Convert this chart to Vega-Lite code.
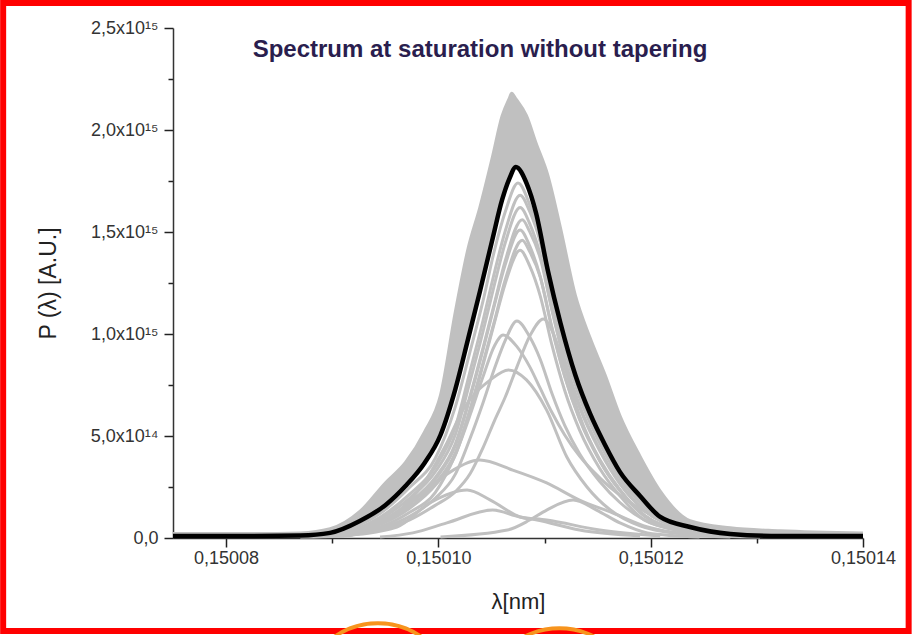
{
  "$schema": "https://vega.github.io/schema/vega-lite/v6.json",
  "autosize": {"type": "none"},
  "width": 690,
  "height": 510,
  "padding": {"left": 173, "top": 28, "right": 51, "bottom": 97},
  "background": "white",
  "config": {"view": {"stroke": null}, "font": "Liberation Sans"},
  "title": {"text": "Spectrum at saturation without tapering", "font": "Liberation Sans", "fontSize": 24, "fontWeight": "bold", "color": "#2a1e4e", "anchor": "middle", "dx": -38, "dy": 62, "offset": 0},
  "datasets": {
    "band": [
      {"x": 0.150075, "lo": 0.0098, "hi": 0.022},
      {"x": 0.1500823, "lo": 0.0098, "hi": 0.022},
      {"x": 0.150087, "lo": 0.012, "hi": 0.025},
      {"x": 0.1500898, "lo": 0.025, "hi": 0.045},
      {"x": 0.1500926, "lo": 0.083, "hi": 0.13},
      {"x": 0.150095, "lo": 0.161, "hi": 0.27},
      {"x": 0.1500969, "lo": 0.255, "hi": 0.37},
      {"x": 0.1500987, "lo": 0.368, "hi": 0.52},
      {"x": 0.1501002, "lo": 0.505, "hi": 0.70},
      {"x": 0.1501016, "lo": 0.730, "hi": 1.11},
      {"x": 0.1501028, "lo": 0.976, "hi": 1.42},
      {"x": 0.1501039, "lo": 1.206, "hi": 1.62},
      {"x": 0.1501051, "lo": 1.466, "hi": 1.87},
      {"x": 0.150106, "lo": 1.657, "hi": 2.069},
      {"x": 0.1501067, "lo": 1.763, "hi": 2.158},
      {"x": 0.1501069, "lo": 1.782, "hi": 2.18},
      {"x": 0.1501073, "lo": 1.819, "hi": 2.152},
      {"x": 0.1501083, "lo": 1.740, "hi": 2.07},
      {"x": 0.1501092, "lo": 1.593, "hi": 1.936},
      {"x": 0.1501103, "lo": 1.314, "hi": 1.78},
      {"x": 0.1501115, "lo": 1.054, "hi": 1.52},
      {"x": 0.1501129, "lo": 0.799, "hi": 1.19},
      {"x": 0.1501143, "lo": 0.608, "hi": 0.98},
      {"x": 0.1501157, "lo": 0.456, "hi": 0.80},
      {"x": 0.1501171, "lo": 0.324, "hi": 0.60},
      {"x": 0.150119, "lo": 0.206, "hi": 0.40},
      {"x": 0.1501209, "lo": 0.103, "hi": 0.23},
      {"x": 0.1501237, "lo": 0.054, "hi": 0.085},
      {"x": 0.1501275, "lo": 0.020, "hi": 0.05},
      {"x": 0.1501322, "lo": 0.010, "hi": 0.035},
      {"x": 0.15014, "lo": 0.010, "hi": 0.025}
    ],
    "mean": [
      {"x": 0.150075, "y": 0.0098},
      {"x": 0.1500823, "y": 0.0098},
      {"x": 0.150087, "y": 0.012},
      {"x": 0.1500898, "y": 0.025},
      {"x": 0.1500926, "y": 0.083},
      {"x": 0.150095, "y": 0.161},
      {"x": 0.1500969, "y": 0.255},
      {"x": 0.1500987, "y": 0.368},
      {"x": 0.1501002, "y": 0.505},
      {"x": 0.1501016, "y": 0.730},
      {"x": 0.1501028, "y": 0.976},
      {"x": 0.1501039, "y": 1.206},
      {"x": 0.1501051, "y": 1.466},
      {"x": 0.150106, "y": 1.657},
      {"x": 0.1501067, "y": 1.763},
      {"x": 0.1501073, "y": 1.819},
      {"x": 0.1501083, "y": 1.740},
      {"x": 0.1501092, "y": 1.593},
      {"x": 0.1501103, "y": 1.314},
      {"x": 0.1501115, "y": 1.054},
      {"x": 0.1501129, "y": 0.799},
      {"x": 0.1501143, "y": 0.608},
      {"x": 0.1501157, "y": 0.456},
      {"x": 0.1501171, "y": 0.324},
      {"x": 0.150119, "y": 0.206},
      {"x": 0.1501209, "y": 0.103},
      {"x": 0.1501237, "y": 0.054},
      {"x": 0.1501275, "y": 0.020},
      {"x": 0.1501322, "y": 0.010},
      {"x": 0.15014, "y": 0.010}
    ],
    "curves": [
      {"s": "L1", "x": 0.150075, "y": 0.009}, {"s": "L1", "x": 0.150087, "y": 0.012}, {"s": "L1", "x": 0.1500907, "y": 0.033}, {"s": "L1", "x": 0.1500945, "y": 0.120}, {"s": "L1", "x": 0.1500973, "y": 0.249}, {"s": "L1", "x": 0.1500997, "y": 0.390}, {"s": "L1", "x": 0.1501016, "y": 0.644}, {"s": "L1", "x": 0.150103, "y": 0.917}, {"s": "L1", "x": 0.1501042, "y": 1.161}, {"s": "L1", "x": 0.1501053, "y": 1.414}, {"s": "L1", "x": 0.1501063, "y": 1.599}, {"s": "L1", "x": 0.1501075, "y": 1.74}, {"s": "L1", "x": 0.1501086, "y": 1.634}, {"s": "L1", "x": 0.1501096, "y": 1.470}, {"s": "L1", "x": 0.1501107, "y": 1.200}, {"s": "L1", "x": 0.1501119, "y": 0.944}, {"s": "L1", "x": 0.1501133, "y": 0.711}, {"s": "L1", "x": 0.1501152, "y": 0.487}, {"s": "L1", "x": 0.1501171, "y": 0.310}, {"s": "L1", "x": 0.1501194, "y": 0.169}, {"s": "L1", "x": 0.1501228, "y": 0.066}, {"s": "L1", "x": 0.1501275, "y": 0.019}, {"s": "L1", "x": 0.15014, "y": 0.009},
      {"s": "L2", "x": 0.150075, "y": 0.008}, {"s": "L2", "x": 0.150087, "y": 0.011}, {"s": "L2", "x": 0.1500907, "y": 0.025}, {"s": "L2", "x": 0.1500945, "y": 0.102}, {"s": "L2", "x": 0.1500973, "y": 0.215}, {"s": "L2", "x": 0.1500997, "y": 0.347}, {"s": "L2", "x": 0.1501016, "y": 0.545}, {"s": "L2", "x": 0.150103, "y": 0.821}, {"s": "L2", "x": 0.1501042, "y": 1.065}, {"s": "L2", "x": 0.1501053, "y": 1.306}, {"s": "L2", "x": 0.1501063, "y": 1.505}, {"s": "L2", "x": 0.1501077, "y": 1.68}, {"s": "L2", "x": 0.1501086, "y": 1.601}, {"s": "L2", "x": 0.1501096, "y": 1.450}, {"s": "L2", "x": 0.1501107, "y": 1.179}, {"s": "L2", "x": 0.1501119, "y": 0.921}, {"s": "L2", "x": 0.1501133, "y": 0.689}, {"s": "L2", "x": 0.1501152, "y": 0.465}, {"s": "L2", "x": 0.1501171, "y": 0.292}, {"s": "L2", "x": 0.1501194, "y": 0.154}, {"s": "L2", "x": 0.1501228, "y": 0.059}, {"s": "L2", "x": 0.1501275, "y": 0.017}, {"s": "L2", "x": 0.15014, "y": 0.008},
      {"s": "L3", "x": 0.150075, "y": 0.008}, {"s": "L3", "x": 0.150087, "y": 0.011}, {"s": "L3", "x": 0.1500907, "y": 0.020}, {"s": "L3", "x": 0.1500945, "y": 0.092}, {"s": "L3", "x": 0.1500973, "y": 0.196}, {"s": "L3", "x": 0.1500997, "y": 0.324}, {"s": "L3", "x": 0.1501016, "y": 0.507}, {"s": "L3", "x": 0.150103, "y": 0.771}, {"s": "L3", "x": 0.1501042, "y": 1.011}, {"s": "L3", "x": 0.1501053, "y": 1.247}, {"s": "L3", "x": 0.1501063, "y": 1.447}, {"s": "L3", "x": 0.1501077, "y": 1.62}, {"s": "L3", "x": 0.1501086, "y": 1.541}, {"s": "L3", "x": 0.1501096, "y": 1.388}, {"s": "L3", "x": 0.1501107, "y": 1.124}, {"s": "L3", "x": 0.1501119, "y": 0.873}, {"s": "L3", "x": 0.1501133, "y": 0.649}, {"s": "L3", "x": 0.1501152, "y": 0.434}, {"s": "L3", "x": 0.1501171, "y": 0.270}, {"s": "L3", "x": 0.1501194, "y": 0.136}, {"s": "L3", "x": 0.1501228, "y": 0.052}, {"s": "L3", "x": 0.1501275, "y": 0.015}, {"s": "L3", "x": 0.15014, "y": 0.008},
      {"s": "L4", "x": 0.150075, "y": 0.008}, {"s": "L4", "x": 0.150087, "y": 0.009}, {"s": "L4", "x": 0.1500907, "y": 0.017}, {"s": "L4", "x": 0.1500945, "y": 0.081}, {"s": "L4", "x": 0.1500973, "y": 0.175}, {"s": "L4", "x": 0.1500997, "y": 0.296}, {"s": "L4", "x": 0.1501016, "y": 0.462}, {"s": "L4", "x": 0.150103, "y": 0.699}, {"s": "L4", "x": 0.1501042, "y": 0.931}, {"s": "L4", "x": 0.1501053, "y": 1.154}, {"s": "L4", "x": 0.1501063, "y": 1.359}, {"s": "L4", "x": 0.1501079, "y": 1.56}, {"s": "L4", "x": 0.1501086, "y": 1.502}, {"s": "L4", "x": 0.1501096, "y": 1.371}, {"s": "L4", "x": 0.1501107, "y": 1.115}, {"s": "L4", "x": 0.1501119, "y": 0.866}, {"s": "L4", "x": 0.1501133, "y": 0.641}, {"s": "L4", "x": 0.1501152, "y": 0.427}, {"s": "L4", "x": 0.1501171, "y": 0.265}, {"s": "L4", "x": 0.1501194, "y": 0.134}, {"s": "L4", "x": 0.1501228, "y": 0.050}, {"s": "L4", "x": 0.1501275, "y": 0.014}, {"s": "L4", "x": 0.15014, "y": 0.008},
      {"s": "L5", "x": 0.150075, "y": 0.008}, {"s": "L5", "x": 0.150087, "y": 0.009}, {"s": "L5", "x": 0.1500907, "y": 0.015}, {"s": "L5", "x": 0.1500945, "y": 0.076}, {"s": "L5", "x": 0.1500973, "y": 0.168}, {"s": "L5", "x": 0.1500997, "y": 0.288}, {"s": "L5", "x": 0.1501016, "y": 0.452}, {"s": "L5", "x": 0.150103, "y": 0.690}, {"s": "L5", "x": 0.1501042, "y": 0.921}, {"s": "L5", "x": 0.1501053, "y": 1.146}, {"s": "L5", "x": 0.1501063, "y": 1.340}, {"s": "L5", "x": 0.1501077, "y": 1.51}, {"s": "L5", "x": 0.1501086, "y": 1.432}, {"s": "L5", "x": 0.1501096, "y": 1.280}, {"s": "L5", "x": 0.1501107, "y": 1.025}, {"s": "L5", "x": 0.1501119, "y": 0.791}, {"s": "L5", "x": 0.1501133, "y": 0.581}, {"s": "L5", "x": 0.1501152, "y": 0.379}, {"s": "L5", "x": 0.1501171, "y": 0.234}, {"s": "L5", "x": 0.1501194, "y": 0.107}, {"s": "L5", "x": 0.1501228, "y": 0.042}, {"s": "L5", "x": 0.1501275, "y": 0.013}, {"s": "L5", "x": 0.15014, "y": 0.008},
      {"s": "L6", "x": 0.150075, "y": 0.007}, {"s": "L6", "x": 0.150087, "y": 0.009}, {"s": "L6", "x": 0.1500907, "y": 0.014}, {"s": "L6", "x": 0.1500945, "y": 0.069}, {"s": "L6", "x": 0.1500973, "y": 0.153}, {"s": "L6", "x": 0.1500997, "y": 0.267}, {"s": "L6", "x": 0.1501016, "y": 0.418}, {"s": "L6", "x": 0.150103, "y": 0.634}, {"s": "L6", "x": 0.1501042, "y": 0.857}, {"s": "L6", "x": 0.1501053, "y": 1.067}, {"s": "L6", "x": 0.1501063, "y": 1.266}, {"s": "L6", "x": 0.1501079, "y": 1.46}, {"s": "L6", "x": 0.1501086, "y": 1.404}, {"s": "L6", "x": 0.1501096, "y": 1.279}, {"s": "L6", "x": 0.1501107, "y": 1.032}, {"s": "L6", "x": 0.1501119, "y": 0.794}, {"s": "L6", "x": 0.1501133, "y": 0.585}, {"s": "L6", "x": 0.1501152, "y": 0.385}, {"s": "L6", "x": 0.1501171, "y": 0.237}, {"s": "L6", "x": 0.1501194, "y": 0.112}, {"s": "L6", "x": 0.1501228, "y": 0.042}, {"s": "L6", "x": 0.1501275, "y": 0.013}, {"s": "L6", "x": 0.15014, "y": 0.007},
      {"s": "L7", "x": 0.150075, "y": 0.007}, {"s": "L7", "x": 0.150087, "y": 0.008}, {"s": "L7", "x": 0.1500907, "y": 0.013}, {"s": "L7", "x": 0.1500945, "y": 0.065}, {"s": "L7", "x": 0.1500973, "y": 0.146}, {"s": "L7", "x": 0.1500997, "y": 0.258}, {"s": "L7", "x": 0.1501016, "y": 0.407}, {"s": "L7", "x": 0.150103, "y": 0.627}, {"s": "L7", "x": 0.1501042, "y": 0.847}, {"s": "L7", "x": 0.1501053, "y": 1.059}, {"s": "L7", "x": 0.1501063, "y": 1.248}, {"s": "L7", "x": 0.1501077, "y": 1.41}, {"s": "L7", "x": 0.1501086, "y": 1.334}, {"s": "L7", "x": 0.1501096, "y": 1.186}, {"s": "L7", "x": 0.1501107, "y": 0.945}, {"s": "L7", "x": 0.1501119, "y": 0.723}, {"s": "L7", "x": 0.1501133, "y": 0.529}, {"s": "L7", "x": 0.1501152, "y": 0.341}, {"s": "L7", "x": 0.1501171, "y": 0.207}, {"s": "L7", "x": 0.1501194, "y": 0.089}, {"s": "L7", "x": 0.1501228, "y": 0.037}, {"s": "L7", "x": 0.1501275, "y": 0.011}, {"s": "L7", "x": 0.15014, "y": 0.007},
      {"s": "D1", "x": 0.150087, "y": 0.006}, {"s": "D1", "x": 0.1500907, "y": 0.009}, {"s": "D1", "x": 0.1500945, "y": 0.046}, {"s": "D1", "x": 0.1500973, "y": 0.106}, {"s": "D1", "x": 0.1500997, "y": 0.195}, {"s": "D1", "x": 0.1501016, "y": 0.313}, {"s": "D1", "x": 0.150103, "y": 0.490}, {"s": "D1", "x": 0.1501042, "y": 0.662}, {"s": "D1", "x": 0.1501053, "y": 0.833}, {"s": "D1", "x": 0.1501063, "y": 0.969}, {"s": "D1", "x": 0.1501074, "y": 1.064}, {"s": "D1", "x": 0.1501086, "y": 0.986}, {"s": "D1", "x": 0.1501096, "y": 0.875}, {"s": "D1", "x": 0.1501107, "y": 0.708}, {"s": "D1", "x": 0.1501119, "y": 0.552}, {"s": "D1", "x": 0.1501133, "y": 0.413}, {"s": "D1", "x": 0.1501152, "y": 0.277}, {"s": "D1", "x": 0.1501171, "y": 0.174}, {"s": "D1", "x": 0.1501194, "y": 0.088}, {"s": "D1", "x": 0.1501228, "y": 0.034}, {"s": "D1", "x": 0.1501275, "y": 0.011},
      {"s": "D2", "x": 0.150087, "y": 0.006}, {"s": "D2", "x": 0.1500907, "y": 0.010}, {"s": "D2", "x": 0.1500945, "y": 0.043}, {"s": "D2", "x": 0.1500973, "y": 0.089}, {"s": "D2", "x": 0.1500997, "y": 0.160}, {"s": "D2", "x": 0.1501016, "y": 0.227}, {"s": "D2", "x": 0.150103, "y": 0.316}, {"s": "D2", "x": 0.1501042, "y": 0.442}, {"s": "D2", "x": 0.1501053, "y": 0.577}, {"s": "D2", "x": 0.1501063, "y": 0.691}, {"s": "D2", "x": 0.1501074, "y": 0.839}, {"s": "D2", "x": 0.1501086, "y": 0.989}, {"s": "D2", "x": 0.1501099, "y": 1.074}, {"s": "D2", "x": 0.1501107, "y": 1.017}, {"s": "D2", "x": 0.1501119, "y": 0.838}, {"s": "D2", "x": 0.1501133, "y": 0.600}, {"s": "D2", "x": 0.1501152, "y": 0.379}, {"s": "D2", "x": 0.1501171, "y": 0.232}, {"s": "D2", "x": 0.1501194, "y": 0.111}, {"s": "D2", "x": 0.1501228, "y": 0.035}, {"s": "D2", "x": 0.1501275, "y": 0.009},
      {"s": "D3", "x": 0.150087, "y": 0.006}, {"s": "D3", "x": 0.1500907, "y": 0.009}, {"s": "D3", "x": 0.1500945, "y": 0.053}, {"s": "D3", "x": 0.1500973, "y": 0.126}, {"s": "D3", "x": 0.1500997, "y": 0.223}, {"s": "D3", "x": 0.1501016, "y": 0.409}, {"s": "D3", "x": 0.150103, "y": 0.605}, {"s": "D3", "x": 0.1501042, "y": 0.790}, {"s": "D3", "x": 0.1501053, "y": 0.944}, {"s": "D3", "x": 0.1501061, "y": 0.995}, {"s": "D3", "x": 0.1501074, "y": 0.938}, {"s": "D3", "x": 0.1501086, "y": 0.840}, {"s": "D3", "x": 0.1501096, "y": 0.733}, {"s": "D3", "x": 0.1501107, "y": 0.615}, {"s": "D3", "x": 0.1501119, "y": 0.505}, {"s": "D3", "x": 0.1501133, "y": 0.401}, {"s": "D3", "x": 0.1501152, "y": 0.295}, {"s": "D3", "x": 0.1501171, "y": 0.209}, {"s": "D3", "x": 0.1501194, "y": 0.132}, {"s": "D3", "x": 0.1501228, "y": 0.054}, {"s": "D3", "x": 0.1501275, "y": 0.023},
      {"s": "D4", "x": 0.1500898, "y": 0.010}, {"s": "D4", "x": 0.1500926, "y": 0.029}, {"s": "D4", "x": 0.1500954, "y": 0.098}, {"s": "D4", "x": 0.1500983, "y": 0.245}, {"s": "D4", "x": 0.1501008, "y": 0.466}, {"s": "D4", "x": 0.1501023, "y": 0.627}, {"s": "D4", "x": 0.1501049, "y": 0.775}, {"s": "D4", "x": 0.1501066, "y": 0.824}, {"s": "D4", "x": 0.1501083, "y": 0.775}, {"s": "D4", "x": 0.1501102, "y": 0.627}, {"s": "D4", "x": 0.1501121, "y": 0.397}, {"s": "D4", "x": 0.150114, "y": 0.250}, {"s": "D4", "x": 0.1501162, "y": 0.137}, {"s": "D4", "x": 0.150119, "y": 0.059}, {"s": "D4", "x": 0.1501228, "y": 0.020}, {"s": "D4", "x": 0.1501275, "y": 0.005},
      {"s": "E", "x": 0.1500888, "y": 0.010}, {"s": "E", "x": 0.1500926, "y": 0.039}, {"s": "E", "x": 0.1500961, "y": 0.123}, {"s": "E", "x": 0.1500992, "y": 0.250}, {"s": "E", "x": 0.1501014, "y": 0.333}, {"s": "E", "x": 0.1501039, "y": 0.382}, {"s": "E", "x": 0.150107, "y": 0.333}, {"s": "E", "x": 0.1501102, "y": 0.270}, {"s": "E", "x": 0.1501133, "y": 0.186}, {"s": "E", "x": 0.1501164, "y": 0.123}, {"s": "E", "x": 0.1501197, "y": 0.054}, {"s": "E", "x": 0.1501246, "y": 0.015}, {"s": "E", "x": 0.1501303, "y": 0.005},
      {"s": "F", "x": 0.1500907, "y": 0.010}, {"s": "F", "x": 0.1500961, "y": 0.054}, {"s": "F", "x": 0.1500992, "y": 0.172}, {"s": "F", "x": 0.1501027, "y": 0.235}, {"s": "F", "x": 0.1501049, "y": 0.186}, {"s": "F", "x": 0.1501077, "y": 0.103}, {"s": "F", "x": 0.1501093, "y": 0.088}, {"s": "F", "x": 0.1501133, "y": 0.039}, {"s": "F", "x": 0.150119, "y": 0.010},
      {"s": "G", "x": 0.1500945, "y": 0.005}, {"s": "G", "x": 0.1500976, "y": 0.025}, {"s": "G", "x": 0.1501008, "y": 0.074}, {"s": "G", "x": 0.1501051, "y": 0.137}, {"s": "G", "x": 0.1501077, "y": 0.103}, {"s": "G", "x": 0.1501102, "y": 0.088}, {"s": "G", "x": 0.1501152, "y": 0.039}, {"s": "G", "x": 0.1501209, "y": 0.010},
      {"s": "H", "x": 0.1501002, "y": 0.005}, {"s": "H", "x": 0.1501065, "y": 0.039}, {"s": "H", "x": 0.1501086, "y": 0.088}, {"s": "H", "x": 0.1501102, "y": 0.137}, {"s": "H", "x": 0.1501127, "y": 0.186}, {"s": "H", "x": 0.1501149, "y": 0.137}, {"s": "H", "x": 0.1501171, "y": 0.074}, {"s": "H", "x": 0.1501197, "y": 0.025}, {"s": "H", "x": 0.1501246, "y": 0.005}
    ],
    "frame": [{"x": 0.150059, "x2": 0.1501443, "y": 2.6226, "y2": -0.4559}],
    "marks": [{"x": 0.1500943, "y": -0.789}, {"x": 0.1501114, "y": -0.814}]
  },
  "layer": [
    {
      "data": {"name": "band"},
      "mark": {"type": "area", "interpolate": "monotone", "color": "#c0c0c0", "opacity": 1, "line": {"color": "#c0c0c0", "strokeWidth": 3}},
      "encoding": {
        "x": {"field": "x", "type": "quantitative", "scale": {"domain": [0.150075, 0.15014], "nice": false, "zero": false},
          "axis": {"title": "λ[nm]", "values": [0.15008, 0.15009, 0.1501, 0.15011, 0.15012, 0.15013, 0.15014], "labelExpr": "round(datum.value*1e5)%2==0 ? replace(format(datum.value,'.5f'),'.',',') : ''", "grid": false, "domainColor": "#333", "domainWidth": 1.5, "tickColor": "#222", "tickWidth": 1.5, "tickSize": {"condition": {"test": "round(datum.value*1e5)%2==0", "value": 9}, "value": 5}, "labelFont": "Liberation Sans", "labelFontSize": 18, "labelColor": "#333", "labelPadding": 2, "labelFlush": false, "labelOverlap": false, "titleFont": "Liberation Sans", "titleFontSize": 22, "titleFontWeight": "normal", "titleColor": "#222", "titlePadding": 24}},
        "y": {"field": "hi", "type": "quantitative", "scale": {"domain": [0, 2.5], "nice": false, "zero": false},
          "axis": {"title": "P (λ) [A.U.]", "values": [0, 0.25, 0.5, 0.75, 1, 1.25, 1.5, 1.75, 2, 2.25, 2.5], "labelExpr": "round(datum.value*4)%2!=0 ? '' : datum.value==0 ? '0,0' : datum.value<1 ? replace(format(datum.value*10,'.1f'),'.',',')+'x10¹⁴' : replace(format(datum.value,'.1f'),'.',',')+'x10¹⁵'", "grid": false, "domainColor": "#333", "domainWidth": 1.5, "tickColor": "#222", "tickWidth": 1.5, "tickSize": {"condition": {"test": "round(datum.value*4)%2==0", "value": 9}, "value": 5}, "labelFont": "Liberation Sans", "labelFontSize": 18, "labelColor": "#333", "labelPadding": 6, "labelOverlap": false, "titleFont": "Liberation Sans", "titleFontSize": 23, "titleFontWeight": "normal", "titleColor": "#222", "titlePadding": 30}},
        "y2": {"field": "lo"}
      }
    },
    {
      "data": {"name": "curves"},
      "mark": {"type": "line", "interpolate": "monotone", "color": "#c0c0c0", "strokeWidth": 3},
      "encoding": {
        "x": {"field": "x", "type": "quantitative"},
        "y": {"field": "y", "type": "quantitative"},
        "detail": {"field": "s"}
      }
    },
    {
      "data": {"name": "mean"},
      "mark": {"type": "line", "interpolate": "monotone", "color": "#000000", "strokeWidth": 4.5},
      "encoding": {
        "x": {"field": "x", "type": "quantitative"},
        "y": {"field": "y", "type": "quantitative"}
      }
    },
    {
      "data": {"name": "frame"},
      "mark": {"type": "rect", "filled": false, "color": "#ff0000", "strokeWidth": 6},
      "encoding": {
        "x": {"field": "x", "type": "quantitative"},
        "x2": {"field": "x2"},
        "y": {"field": "y", "type": "quantitative"},
        "y2": {"field": "y2"}
      }
    },
    {
      "data": {"name": "marks"},
      "mark": {"type": "point", "shape": "circle", "filled": false, "color": "#f7941d", "strokeWidth": 4, "size": 23000, "opacity": 1},
      "encoding": {
        "x": {"field": "x", "type": "quantitative"},
        "y": {"field": "y", "type": "quantitative"}
      }
    }
  ]
}
